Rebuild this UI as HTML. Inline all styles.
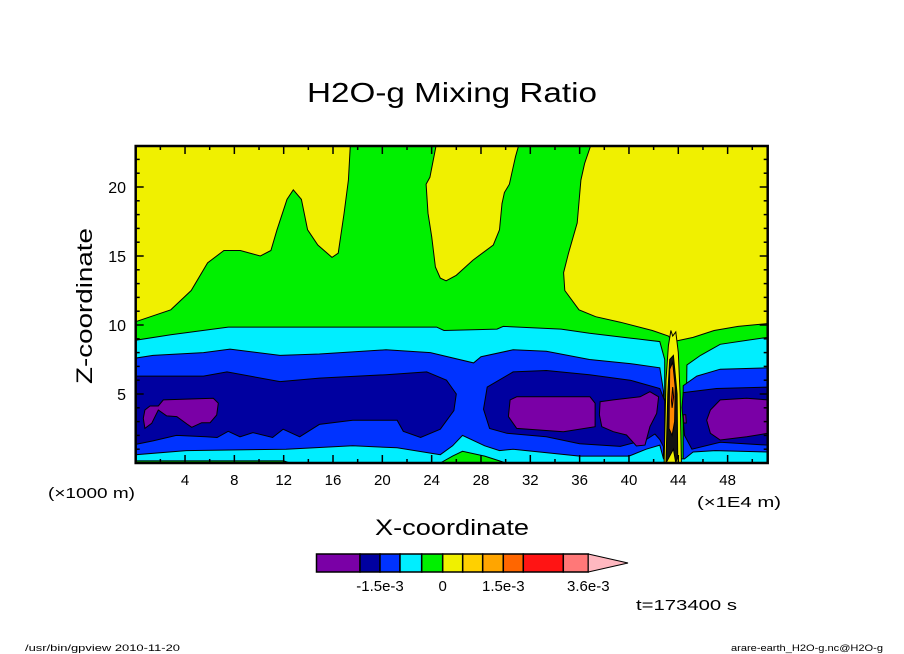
<!DOCTYPE html>
<html><head><meta charset="utf-8"><style>
html,body{margin:0;padding:0;background:#fff;}
svg{display:block;font-family:"Liberation Sans",sans-serif;}
</style></head><body>
<svg id="chart" width="904" height="654" viewBox="0 0 904 654" xmlns="http://www.w3.org/2000/svg">
<rect x="0" y="0" width="904" height="654" fill="#fff"/>
<text x="452" y="102" font-size="28" text-anchor="middle" textLength="290" lengthAdjust="spacingAndGlyphs">H2O-g Mixing Ratio</text>
<g id="plot"></g>
<g id="axes"></g>
<text transform="translate(92,306) rotate(-90)" font-size="22" text-anchor="middle" textLength="156" lengthAdjust="spacingAndGlyphs">Z-coordinate</text>
<text x="452" y="535" font-size="22" text-anchor="middle" textLength="154" lengthAdjust="spacingAndGlyphs">X-coordinate</text>
<text x="48" y="498" font-size="15" textLength="87" lengthAdjust="spacingAndGlyphs">(×1000 m)</text>
<text x="697" y="507" font-size="15" textLength="84" lengthAdjust="spacingAndGlyphs">(×1E4 m)</text>
<g id="cbar"></g>
<text x="636" y="610" font-size="15" textLength="101" lengthAdjust="spacingAndGlyphs">t=173400 s</text>
<text x="25" y="651" font-size="9" textLength="155" lengthAdjust="spacingAndGlyphs">/usr/bin/gpview  2010-11-20</text>
<text x="731" y="651" font-size="9" textLength="152" lengthAdjust="spacingAndGlyphs">arare-earth_H2O-g.nc@H2O-g</text>
</svg>
<script>
// ---- data (x in 1E4 m, z in 1000 m) ----
const greenTopX=[0,2.85,4.5,5.83,7.15,8.48,10.1,10.96,11.46,12.27,12.78,13.44,13.94,14.77,15.92,16.42,16.9,17.25,17.4,24.36,23.86,23.55,23.7,24.0,24.3,24.7,25.17,26.0,27.35,29.0,29.5,29.7,29.9,30.3,30.5,30.8,31.05,36.9,36.4,36.1,35.8,35.1,34.7,34.8,35.95,37.3,39.3,41.9,43.2,43.6,45.2,46.9,48.85,51.25];
const greenTopZ=[10.24,11.1,12.5,14.5,15.4,15.4,15.0,15.4,16.9,19.1,19.8,19.1,16.9,15.8,14.9,15.2,18.1,20.5,23,23,20.7,20.2,18.1,16.4,14.2,13.4,13.2,13.6,14.7,15.8,16.9,18.8,19.6,20.2,21.0,22.2,23,23,21.7,20.5,17.4,15.2,13.8,12.5,11.1,10.6,10.2,9.6,9.2,8.8,9.1,9.6,9.9,10.1];
const cyanTopX=[0,2.85,7.5,24.4,25.0,29.3,29.8,34.5,36.8,40.1,42.5,42.9,42.9,44.6,44.7,45.8,47.4,49.6,51.25];
const cyanTopZ=[8.9,9.3,9.85,9.85,9.6,9.7,9.9,9.7,9.4,9.05,8.8,7.5,0,0,7.1,7.8,8.6,8.9,9.1];
const blueTopX=[0,1.4,5.5,7.65,11.7,14.9,20.3,23.9,27.4,28.0,30.6,33.3,36.8,40.1,42.5,42.8,42.8,44.4,44.4,45.5,47.4,51.25];
const blueTopZ=[7.6,7.8,8.0,8.25,7.8,7.9,8.2,8.0,7.25,7.7,8.2,8.1,7.5,7.2,6.9,5.2,0,0,5.6,6.3,6.8,6.9];
const blueBotX=[0,4.1,12.2,17.6,21.2,24.7,25.7,26.5,28.3,29.5,30.6,36.0,40.0,41.4,42.5,42.8,44.5,45.2,47.0,51.25];
const blueBotZ=[0.6,0.9,1.0,1.25,1.1,0.6,1.25,2.0,1.25,0.9,1.0,0.5,0.5,1.0,1.3,0.3,0.3,0.8,0.9,0.8];
const greenBotAX=[0,12,12.5];
const greenBotAZ=[0.15,0.15,0];
const greenBotBX=[24.7,25.7,26.5,28.3,29.5,30];
const greenBotBZ=[0,0.5,0.85,0.5,0.15,0];
const dkLeftX=[0,5.5,7.4,11.7,14.9,20.3,23.6,25.2,26.0,25.8,24.7,23.1,21.7,21.2,17.6,14.9,13.3,11.95,11.1,9.5,8.46,7.5,6.6,5.7,3.3,1.4,0];
const dkLeftZ=[6.3,6.3,6.6,5.9,6.15,6.4,6.6,6.0,5.0,3.8,2.45,1.85,2.3,3.1,3.1,2.8,1.9,2.45,1.85,2.2,1.9,2.3,1.85,1.9,2.0,1.6,1.35];
const dkMidX=[28.2,28.5,30.6,33.3,36.8,40.1,42.5,42.9,42.9,42.5,42.1,41.4,39.3,36.0,33.3,30.1,28.7];
const dkMidZ=[3.9,5.5,6.6,6.7,6.4,6.0,5.4,4.5,1.0,1.7,2.1,1.7,1.2,1.4,1.9,2.15,2.5];
const dkRightX=[44.4,47.1,51.25,51.25,47.4,45.1,44.5,44.3];
const dkRightZ=[5.1,5.4,5.5,1.3,1.5,1.0,2.0,4.0];
const pu1X=[0.75,1.16,1.83,2.24,6.29,6.7,6.57,6.03,5.35,4.54,4.14,3.33,2.51,1.83,1.30,0.75,0.62];
const pu1Z=[3.84,4.13,4.13,4.57,4.69,4.33,3.48,2.92,2.92,2.59,2.83,3.36,3.41,3.84,2.88,2.51,3.24];
const pu2X=[30.36,30.9,36.84,37.25,37.25,34.68,30.9,30.22];
const pu2Z=[4.57,4.8,4.8,4.33,2.63,2.27,2.51,3.36];
const pu3X=[37.66,38.74,40.9,41.7,42.4,42.25,41.7,41.3,40.6,39.8,38.74,37.8,37.6];
const pu3Z=[4.44,4.57,4.8,5.17,4.8,3.6,2.63,1.3,1.23,2.03,2.27,2.63,3.5];
const pu4X=[46.6,47.4,49.55,51.25,51.25,49.55,47.4,46.6,46.3];
const pu4Z=[3.84,4.57,4.69,4.57,2.15,1.9,1.67,2.15,3.1];
const pu5X=[44.4,44.6,44.65,44.45];
const pu5Z=[3.5,3.5,2.9,2.9];
const spikeYX=[42.85,43.0,43.2,43.4,43.55,43.8,44.0,44.15,44.25];
const spikeYZ=[0,6,8.5,9.6,9.2,9.5,8,5,0];
const spikeKX=[43.0,43.15,43.3,43.6,43.9,43.95,43.8,43.6];
const spikeKZ=[0,5,7.5,7.8,5,0.5,0,1];
const spikeOX=[43.25,43.3,43.55,43.75,43.7,43.5];
const spikeOZ=[2.5,6.8,7.3,5.5,3,2];
const spikeRX=[43.45,43.55,43.62,43.5];
const spikeRZ=[4.5,5.5,4.8,4.0];
const xTicks=[4,8,12,16,20,24,28,32,36,40,44,48];
const yTicks=[5,10,15,20];
const cbColors=["#7a00a6","#0000a0","#0033ff","#00eeff","#00f000","#f0f000","#ffd000","#ffa500","#ff6600","#ff1414","#ff7878"];
const cbEdges=[316.5,360,380,400,421.7,442.7,462.7,482.7,503.3,523.3,563.3,588.3];
const cbLabels=["-1.5e-3","0","1.5e-3","3.6e-3"];
const cbLabelEdge=[2,5,8,11];

const NS="http://www.w3.org/2000/svg";
const X0=135.7,X1=767.7,Y0=463,Y1=146;
const XMAX=51.25,ZMAX=(Y0-Y1)/13.8;
function sx(x){return X0+x*(X1-X0)/XMAX;}
function sy(z){return Y0-z*(Y0-Y1)/ZMAX;}
const plot=document.getElementById('plot');
function poly(xs,zs,fill,name,closeBottom){
  let pts=xs.map((x,i)=>sx(x).toFixed(1)+','+sy(zs[i]).toFixed(1));
  if(closeBottom){pts.push(sx(xs[xs.length-1]).toFixed(1)+','+Y0);pts.unshift(sx(xs[0]).toFixed(1)+','+Y0);}
  const p=document.createElementNS(NS,'polygon');
  p.setAttribute('points',pts.join(' '));
  p.setAttribute('fill',fill);p.setAttribute('stroke','#000');p.setAttribute('stroke-width','1');
  
  
  plot.appendChild(p);
}
const bg=document.createElementNS(NS,'rect');
bg.setAttribute('x',X0);bg.setAttribute('y',Y1);bg.setAttribute('width',X1-X0);bg.setAttribute('height',Y0-Y1);bg.setAttribute('fill','#f0f000');


plot.appendChild(bg);
poly(greenTopX,greenTopZ,'#00f000','green-region',true);
poly(cyanTopX,cyanTopZ,'#00eeff','cyan-region',true);
poly(blueTopX,blueTopZ,'#0033ff','blue-region',true);
poly(blueBotX,blueBotZ,'#00eeff','cyan-bottom-region',true);
poly(greenBotAX,greenBotAZ,'#00f000','green-bottom-left',true);
poly(greenBotBX,greenBotBZ,'#00f000','green-bottom-mid',true);
poly(dkLeftX,dkLeftZ,'#0000a0','darkblue-left',false);
poly(dkMidX,dkMidZ,'#0000a0','darkblue-mid',false);
poly(dkRightX,dkRightZ,'#0000a0','darkblue-right',false);
poly(pu1X,pu1Z,'#7a00a6','purple-left',false);
poly(pu2X,pu2Z,'#7a00a6','purple-mid',false);
poly(pu3X,pu3Z,'#7a00a6','purple-mid2',false);
poly(pu4X,pu4Z,'#7a00a6','purple-right',false);
poly(pu5X,pu5Z,'#7a00a6','purple-small',false);
poly(spikeYX,spikeYZ,'#f0f000','spike-yellow',false);
poly(spikeKX,spikeKZ,'#111','spike-dark',false);
poly(spikeOX,spikeOZ,'#ff8800','spike-orange',false);
poly(spikeRX,spikeRZ,'#ff2000','spike-red',false);

const axes=document.getElementById('axes');
function line(x1,y1,x2,y2,name,w){
  const l=document.createElementNS(NS,'line');
  l.setAttribute('x1',x1);l.setAttribute('y1',y1);l.setAttribute('x2',x2);l.setAttribute('y2',y2);
  l.setAttribute('stroke','#000');l.setAttribute('stroke-width',w||1.5);
  
  
  axes.appendChild(l);
}
function text(x,y,s,anchor,size,name,parent){
  const t=document.createElementNS(NS,'text');
  t.setAttribute('x',x);t.setAttribute('y',y);t.setAttribute('text-anchor',anchor);t.setAttribute('font-size',size);
  t.textContent=s;
  
  
  (parent||axes).appendChild(t);
}
const frame=document.createElementNS(NS,'rect');
frame.setAttribute('x',X0);frame.setAttribute('y',Y1);frame.setAttribute('width',X1-X0);frame.setAttribute('height',Y0-Y1);
frame.setAttribute('fill','none');frame.setAttribute('stroke','#000');frame.setAttribute('stroke-width','2.5');


axes.appendChild(frame);
for(let v=2;v<XMAX;v+=2){
  const major=xTicks.includes(v);const L=major?8:4;
  line(sx(v),Y0,sx(v),Y0-L,'x-tick');line(sx(v),Y1,sx(v),Y1+L,'x-tick-top');
}
xTicks.forEach(v=>text(sx(v),485,String(v),'middle',15,'x-tick-label'));
for(let v=1;v<ZMAX;v+=1){
  const major=yTicks.includes(v);const L=major?8:4;
  line(X0,sy(v),X0+L,sy(v),'y-tick');line(X1,sy(v),X1-L,sy(v),'y-tick-right');
}
yTicks.forEach(v=>text(126,sy(v)+6,String(v),'end',16,'y-tick-label'));

const cb=document.getElementById('cbar');
const cy0=554,cy1=572;
cbColors.forEach((c,i)=>{
  const r=document.createElementNS(NS,'rect');
  r.setAttribute('x',cbEdges[i]);r.setAttribute('y',cy0);r.setAttribute('width',cbEdges[i+1]-cbEdges[i]);r.setAttribute('height',cy1-cy0);
  r.setAttribute('fill',c);r.setAttribute('stroke','#000');r.setAttribute('stroke-width','1.5');
  
  
  cb.appendChild(r);
});
const tri=document.createElementNS(NS,'polygon');
tri.setAttribute('points',`${cbEdges[11]},${cy0} 628,${(cy0+cy1)/2} ${cbEdges[11]},${cy1}`);
tri.setAttribute('fill','#ffb8c0');tri.setAttribute('stroke','#000');tri.setAttribute('stroke-width','1');


cb.appendChild(tri);
cbLabels.forEach((s,i)=>text(cbEdges[cbLabelEdge[i]],591,s,'middle',15,'colorbar-label',cb));
</script>
</body></html>
